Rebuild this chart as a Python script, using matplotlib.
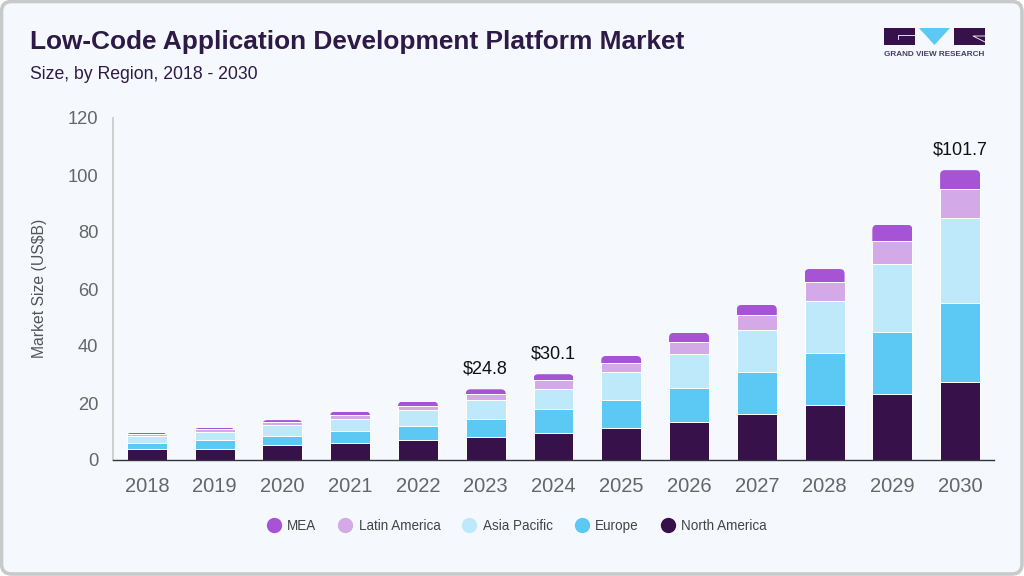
import matplotlib
matplotlib.use('Agg')
import matplotlib.pyplot as plt
from matplotlib.lines import Line2D
from matplotlib.patches import FancyBboxPatch, Polygon, Rectangle
import numpy as np

years = ['2018', '2019', '2020', '2021', '2022', '2023', '2024', '2025', '2026', '2027', '2028', '2029', '2030']

# cumulative tops, turned into segments below
north_america = [3.7, 4.0, 5.1, 5.8, 6.9, 8.2, 9.6, 11.3, 13.4, 16.0, 19.2, 23.0, 27.5]
europe_top = [6.1, 7.1, 8.5, 10.3, 12.0, 14.5, 17.8, 21.2, 25.4, 30.8, 37.4, 45.0, 55.2]
asia_pacific_top = [8.5, 9.7, 12.2, 14.3, 17.4, 20.9, 25.0, 30.8, 37.3, 45.5, 55.7, 68.7, 84.8]
latin_america_top = [9.1, 10.8, 13.2, 15.7, 19.1, 23.0, 28.0, 33.9, 41.5, 50.8, 62.3, 76.8, 95.0]
mea_top = [9.6, 11.3, 14.0, 17.0, 20.5, 24.8, 30.1, 36.5, 44.6, 54.4, 67.0, 82.5, 101.7]

total_labels = {'2023': '$24.8', '2024': '$30.1', '2030': '$101.7'}

BG = '#F5F8FD'
DARK = '#2E1A47'
COLORS = {
    'North America': '#371149',
    'Europe': '#5CC9F5',
    'Asia Pacific': '#BDE9FA',
    'Latin America': '#D3A9E8',
    'MEA': '#A653D6',
}

plt.rcParams['font.family'] = ['Liberation Sans', 'DejaVu Sans']

W, H = 1024, 576
fig = plt.figure(figsize=(W / 100, H / 100), dpi=100, facecolor='white')

# card, logo and headings sit on a pixel underlay
under = fig.add_axes([0, 0, 1, 1], facecolor='none')
under.set_xlim(0, W)
under.set_ylim(H, 0)
under.axis('off')

under.add_patch(FancyBboxPatch((1.5, 1.5), W - 3.5, H - 3.5, boxstyle='round,pad=0,rounding_size=10',
                               facecolor=BG, edgecolor='#C8CACA', linewidth=2.6))
under.add_patch(Rectangle((884, 28), 31, 17, facecolor=COLORS['North America'], edgecolor='none'))
under.add_patch(Polygon([(919, 28), (950, 28), (934.5, 45)], facecolor=COLORS['Europe'], edgecolor='none'))
under.add_patch(Rectangle((954, 28), 31, 17, facecolor=COLORS['North America'], edgecolor='none'))
under.plot([915, 898, 898], [35, 35, 39], color='white', lw=0.6)
under.plot([985, 973, 985], [42, 36, 36], color='white', lw=0.6)
under.text(934.5, 55, 'GRAND VIEW RESEARCH', fontsize=5.85, fontweight='bold', color='#4A3B63',
           ha='center', va='center')
under.text(30, 41.5, 'Low-Code Application Development Platform Market', fontsize=18.95,
           fontweight='bold', color=DARK, va='center', ha='left')
under.text(30, 74.5, 'Size, by Region, 2018 - 2030', fontsize=12.7, color=DARK, va='center', ha='left')

ax = fig.add_axes([113 / W, 1 - 460 / H, 881 / W, 342 / H], facecolor='none')

x = np.arange(len(years))
bar_width = 0.59
tops = [north_america, europe_top, asia_pacific_top, latin_america_top, mea_top]
names = ['North America', 'Europe', 'Asia Pacific', 'Latin America', 'MEA']

bottom = np.zeros(len(years))
for name, top in zip(names, tops):
    top = np.array(top)
    if name == 'MEA':
        bars = ax.bar(x, top - bottom, bottom=bottom, width=bar_width, color=COLORS[name],
                      linewidth=0, zorder=2.9)
    else:
        bars = ax.bar(x, top - bottom, bottom=bottom, width=bar_width, color=COLORS[name],
                      edgecolor='white', linewidth=0.7, zorder=3)
    bottom = top

# round off the top of the last segment
aspect = (881 / 13) / (342 / 120)
for rect, total in zip(bars, mea_top):
    clip = FancyBboxPatch((rect.get_x(), 0), rect.get_width(), total,
                          boxstyle='round,pad=0,rounding_size=0.07', mutation_aspect=aspect,
                          transform=ax.transData, facecolor='none', edgecolor='none')
    rect.set_clip_path(clip)

for i, year in enumerate(years):
    if year in total_labels:
        ax.annotate(total_labels[year], (i, mea_top[i]), xytext=(0, 12), textcoords='offset pixels',
                    ha='center', va='bottom', fontsize=13, color='#111111')

ax.set_xlim(-0.5, 12.5)
ax.set_ylim(0, 120)
ax.set_xticks(x)
ax.set_xticklabels(years)
ax.set_yticks(np.arange(0, 121, 20))
ax.tick_params(axis='both', length=0, labelcolor='#666666')
ax.tick_params(axis='x', pad=12, labelsize=14.5)
ax.tick_params(axis='y', pad=10.5, labelsize=13.2)
ax.set_ylabel('Market Size (US$B)', fontsize=11.3, color='#555555', va='center')
ax.yaxis.set_label_coords((39.5 - 113) / 881, (460 - 288) / 342)

ax.spines['top'].set_visible(False)
ax.spines['right'].set_visible(False)
ax.spines['left'].set_color('#CCCCCC')
ax.spines['left'].set_linewidth(1.3)
ax.spines['bottom'].set_color('#333340')
ax.spines['bottom'].set_linewidth(1.0)
ax.spines['bottom'].set_zorder(4)

legend_order = ['MEA', 'Latin America', 'Asia Pacific', 'Europe', 'North America']
handles = [Line2D([], [], linestyle='none', marker='o', markersize=10, color=COLORS[n], label=n)
           for n in legend_order]
fig.legend(handles=handles, loc='center', bbox_to_anchor=(513.5 / W, 1 - 526 / H), ncol=5, frameon=False,
           fontsize=9.75, labelcolor='#444444', handletextpad=0.0, columnspacing=1.13)

fig.savefig('out.png', dpi=100, facecolor='white')
plt.close(fig)
